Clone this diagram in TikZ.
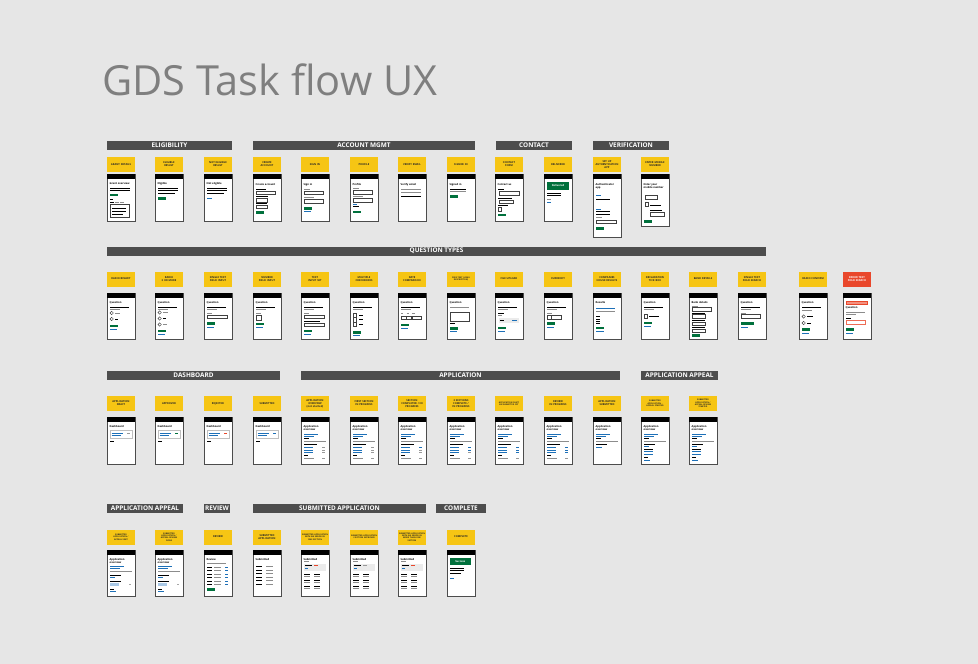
\documentclass[tikz,border=0pt]{standalone}
\usepackage{fontspec}
\setmainfont{Open Sans}
\usetikzlibrary{positioning}

\definecolor{bg}{HTML}{E6E6E6}
\definecolor{hdrgray}{HTML}{4D4D4D}
\definecolor{ttlgray}{HTML}{7F7F7F}
\definecolor{gdsyellow}{HTML}{F6C514}
\definecolor{gdsred}{HTML}{E9472B}
\definecolor{gdsgreen}{HTML}{00703C}
\definecolor{gdsblue}{HTML}{1D70B8}
\definecolor{paleblue}{HTML}{A9C8E6}

% one phone screen: name, x, y, height, content (local coordinates)
\newcommand{\screen}[5]{%
  \begin{scope}[shift={(#2,#3)}]
    \def\scrname{#1}%
    \node[card, minimum height=#4] (#1) at (0,0) {};
    \fill[black] (0,0) rectangle (28,5);
    #5
  \end{scope}}
\newcommand{\uititle}[2]{\node[uitt] (\scrname-t) at (2.5,#1) {#2};}
\newcommand{\uiline}[3][3]{\draw[uiln] (#1,#2) -- ++(#3,0);}
\newcommand{\uigray}[3][3]{\draw[uigr] (#1,#2) -- ++(#3,0);}
\newcommand{\uibtn}[2][3]{\fill[gdsgreen] (#1,#2) rectangle ++(8,2.6);}
\newcommand{\uilink}[2][3]{\draw[uilk] (#1,#2) -- ++(7,0);}
\newcommand{\uibox}[3][3]{\draw[uibx] (#1,#2) rectangle ++(#3,3.5);}
\newcommand{\uiradio}[2][4.7]{\draw[uibx] (#1,#2) circle (1.7);}
\newcommand{\uicheck}[2][3]{\draw[uibx] (#1,#2) rectangle ++(3.5,3.5);}
\newcommand{\qhead}[1][Question]{\uititle{8}{#1}\uiline{14}{19}\uigray{16}{10}}
\newcommand{\dashcard}[1]{\uititle{8.5}{Dashboard}%
  \draw[uibx,black!25] (3,13.5) rectangle (25,21);
  \draw[uilk] (4.5,16) -- ++(11,0); \draw[uilk] (4.5,18.5) -- ++(9,0);
  \draw[line width=0.8pt,#1] (20,16) -- ++(3,0); \uiline{24}{4}}
\newcommand{\appcard}[3]{\uititle{8.5}{Application\\overview}%
  \draw[uilk] (3,17) -- ++(14,0); \draw[uilk] (3,19) -- ++(10,0);
  \uiline{21.5}{5}\uigray{24.5}{22}\uiline{27.5}{13}
  \foreach \yy/\cc in {30.5/#1,33/#2,35.5/#3}{%
    \draw[uilk] (3,\yy) -- ++(9,0); \draw[line width=0.7pt,\cc] (21,\yy) -- ++(3,0);}
  \uiline{38.5}{4}\uigray{41.5}{10}\draw[line width=0.7pt,black!40] (21,41.5) -- ++(3,0);}
\newcommand{\appealcard}{\uititle{8.5}{Application\\overview}%
  \draw[uilk] (3,17) -- ++(14,0); \draw[uilk] (3,19) -- ++(10,0);
  \uiline{21.5}{5}\uigray{24}{22}\uiline{27}{11}\draw[uilk] (3,29) -- ++(5,0);
  \uiline{32}{9}\draw[uilk] (3,34.5) -- ++(9,0); \draw[uilk] (3,37) -- ++(9,0);
  \uiline{40.5}{4}\draw[uilk] (3,43) -- ++(6,0);}
\newcommand{\appealsent}{\uititle{8}{Application\\overview}%
  \draw[uilk] (3,16.5) -- ++(14,0); \draw[uilk] (3,18.5) -- ++(10,0);
  \uigray{21.5}{22}\uiline{25}{11}\draw[uilk] (3,27.5) -- ++(5,0);
  \uiline{31}{11}\fill[paleblue] (3,32.5) rectangle (12,36);
  \draw[line width=0.6pt,black!35] (22,34.2) -- ++(2,0);
  \uiline{39}{4}\draw[uilk] (3,41.5) -- ++(6,0);}
\newcommand{\errsub}[1]{\uititle{8}{Submitted}\uigray{11.5}{5}%
  \fill[black!8] (3,13.5) rectangle (25,20.5);
  \uiline[4]{15.5}{7}\draw[line width=0.8pt,#1] (13,15.5) -- ++(4,0);
  \draw[uilk] (4,18) -- ++(3,0);
  \foreach \yy in {24,30,36}{\uiline{\yy}{6}\uiline[13]{\yy}{6}\uigray{\yy+2.7}{6}\uigray[13]{\yy+2.7}{6}}}

\begin{document}
\begin{tikzpicture}[x=1pt,y=-1pt,
  hdr/.style={fill=hdrgray, text=white, font=\fontsize{6.4}{7}\selectfont\bfseries, minimum height=9, inner sep=0},
  tag/.style={fill=gdsyellow, minimum height=15, inner sep=0.5, text width=27.5, align=center,
    font=\fontsize{2.6}{3}\selectfont\bfseries, text=black!85},
  small/.style={font=\fontsize{2.05}{2.45}\selectfont\bfseries},
  card/.style={draw=black!70, fill=white, line width=0.6pt, minimum width=28, anchor=north west, inner sep=0},
  uitt/.style={anchor=north west, inner sep=0, align=left, font=\fontsize{2.6}{3}\selectfont\bfseries},
  uiln/.style={line width=0.7pt, black},
  uigr/.style={line width=0.5pt, black!45},
  uilk/.style={line width=0.6pt, gdsblue},
  uibx/.style={line width=0.45pt, black!75}]
\fill[bg] (0,0) rectangle (978,664);
\useasboundingbox (0,0) rectangle (978,664);

\node[anchor=base west, inner sep=0, text=ttlgray, font=\fontsize{41.5}{41.5}\selectfont] (title) at (102,95) {GDS Task flow UX};

% headers
\node[hdr, minimum width=125] (hEligibility) at (169.5,145.5) {ELIGIBILITY};
\node[hdr, minimum width=222] (hAccount) at (364,145.5) {ACCOUNT MGMT};
\node[hdr, minimum width=76] (hContact) at (534,145.5) {CONTACT};
\node[hdr, minimum width=76] (hVerification) at (631,145.5) {VERIFICATION};
\node[hdr, minimum width=659] (hQuestions) at (436.5,251) {QUESTION TYPES};
\node[hdr, minimum width=173] (hDashboard) at (193.5,375.5) {DASHBOARD};
\node[hdr, minimum width=319] (hApplication) at (460.5,375.5) {APPLICATION};
\node[hdr, minimum width=77] (hAppeal) at (679.5,375.5) {APPLICATION APPEAL};
\node[hdr, minimum width=76] (hAppealB) at (145,508.5) {APPLICATION APPEAL};
\node[hdr, minimum width=26] (hReview) at (217,508.5) {REVIEW};
\node[hdr, minimum width=173] (hSubmitted) at (339.5,508.5) {SUBMITTED APPLICATION};
\node[hdr, minimum width=50] (hComplete) at (461,508.5) {COMPLETE};

% row 1
\node[tag] (tGrant) at (121,164.5) {GRANT DETAILS};
\node[tag] (tElig) at (169,164.5) {ELIGIBLE\\RESULT};
\node[tag] (tNotElig) at (218,164.5) {NOT ELIGIBLE\\RESULT};
\node[tag] (tCreate) at (267,164.5) {CREATE\\ACCOUNT};
\node[tag] (tSignIn) at (315,164.5) {SIGN IN};
\node[tag] (tProfile) at (364,164.5) {PROFILE};
\node[tag] (tVerify) at (412,164.5) {VERIFY EMAIL};
\node[tag] (tSigned) at (461,164.5) {SIGNED IN};
\node[tag] (tContact) at (509,164.5) {CONTACT\\FORM};
\node[tag] (tDeliv) at (558,164.5) {DELIVERED};
\node[tag] (tAuth) at (607,164.5) {SET UP\\AUTHENTICATION\\APP};
\node[tag] (tMobile) at (655,164.5) {ENTER MOBILE\\NUMBER};

\screen{sGrant}{107}{174}{47}{\uititle{8}{Grant overview}\uiline{14}{20}\uiline{16.5}{20}\uibtn{19.5}
  \uiline{25}{3}\uiline{28.5}{4}\uigray[8]{28.5}{4}\uigray[13]{28.5}{4}
  \draw[uibx] (3.5,30.5) rectangle (22,43); \uiline[5]{34.5}{14}\uiline[5]{37.5}{14}\uiline[5]{40.5}{11}}
\screen{sElig}{155}{174}{47}{\uititle{8}{Eligible}\uiline{14}{20}\uiline{16.5}{20}\uiline{19}{17}\uibtn{23}}
\screen{sNotElig}{204}{174}{47}{\uititle{8}{Not eligible}\uiline{14}{20}\uiline{16.5}{20}\uiline{19}{17}\draw[uilk] (3,24) -- ++(5,0);}
\screen{sCreate}{253}{174}{47}{\uititle{9}{Create account}\uiline{15}{10}\uibox{17}{19}\uiline{22.5}{12}\uibox{24.5}{11}\uiline{29.5}{11}\uibox{31}{11}\uibtn{37}}
\screen{sSignIn}{301}{174}{47}{\uititle{9}{Sign in}\uigray{15}{6}\uibox{17}{19}\uigray{23.5}{10}\uibox{25.5}{19}\uibtn{33}\uilink{37.5}}
\screen{sProfile}{350}{174}{47}{\uititle{9}{Profile}\uigray{14.5}{6}\uibox{16.5}{19}\uigray{22.5}{10}\uibox{24.5}{19}\draw[uilk] (3,30.5) -- ++(4,0); \uiline{32.5}{6}\uibtn{36.5}}
\screen{sVerify}{398}{174}{47}{\uititle{9}{Verify email}\uigray{15.5}{20}\uigray{18}{20}\uiline{22.5}{20}}
\screen{sSigned}{447}{174}{47}{\uititle{9}{Signed in}\uiline{15}{16}\uigray{17.5}{16}\uibtn{21}}
\screen{sContact}{495}{174}{47}{\uititle{9}{Contact us}\uiline{15.5}{6}\uibox[4]{17.5}{20}\uiline{24}{14}\uibox[4]{26}{14}\uiline{31.5}{10}\uicheck{33.5}\uibtn{39.5}}
\screen{sDeliv}{544}{174}{47}{\fill[gdsgreen] (3,8) rectangle (25,15.5);
  \node[uitt, text=white, anchor=center] (sDeliv-b) at (14,11.75) {Delivered};
  \uiline{19}{14}\uiline{21.5}{14}\uigray{25}{4}\draw[uilk] (3,28.5) -- ++(4,0);}
\screen{sAuth}{593}{174}{63}{\uititle{9}{Authenticator\\app}\draw[uilk] (3,21.5) -- ++(5,0); \uiline{25.5}{14}
  \draw[uilk] (3,35) -- ++(5,0); \uiline{37.5}{14}\uiline{40}{14}\uigray{43.5}{6}\uibox{46}{20}\uibtn{53}}
\screen{sMobile}{641}{174}{52}{\uititle{9}{Enter your\\mobile number}\uibox[4]{21.5}{12}\uicheck[4]{28.5}\uiline[9]{31}{11}
  \uiline[9]{36.5}{12}\uibox[9]{38.5}{14}\uibtn{46}}

% row 2
\node[tag] (tRadioBin) at (121,279) {RADIO BINARY};
\node[tag] (tRadioMore) at (169,279) {RADIO\\3 OR MORE};
\node[tag] (tSingle) at (218,279) {SINGLE TEXT\\FIELD INPUT};
\node[tag] (tNumber) at (267,279) {NUMBER\\FIELD INPUT};
\node[tag] (tTextSet) at (315,279) {TEXT\\INPUT SET};
\node[tag] (tChecks) at (364,279) {MULTIPLE\\CHECKBOXES};
\node[tag] (tDate) at (412,279) {DATE\\COMPARISON};
\node[tag, small] (tFree) at (461,279) {FREE TEXT (LONG\\DESCRIPTION)};
\node[tag] (tFile) at (509,279) {FILE UPLOAD};
\node[tag] (tCurrency) at (558,279) {CURRENCY};
\node[tag] (tCompanies) at (607,279) {COMPANIES\\HOUSE RESULTS};
\node[tag] (tDeclare) at (655,279) {DECLARATION\\TICK BOX};
\node[tag] (tBank) at (703,279) {BANK DETAILS};
\node[tag] (tSearch) at (752,279) {SINGLE TEXT\\FIELD SEARCH};
\node[tag] (tConfirm) at (813,279) {RADIO CONFIRM};
\node[tag, fill=gdsred, text=white] (tError) at (857,279) {ERROR TEXT\\FIELD SEARCH};

\screen{qRadioBin}{107}{293}{46}{\qhead\uiradio{20}\uigray[8]{20}{5}\uiradio{26}\uiline[8]{26}{3}\uibtn{31.5}\uilink{36}}
\screen{qRadioMore}{155}{293}{46}{\qhead\uiradio{19.5}\uigray[8]{19.5}{5}\uiradio{25.5}\uiline[8]{25.5}{3}\uiradio{31.5}\uigray[8]{31.5}{4}\uibtn{36.5}\uilink{41}}
\screen{qSingle}{204}{293}{46}{\qhead\uigray{20.5}{5}\uibox{22}{20}\uibtn{29}\uilink{34.5}}
\screen{qNumber}{253}{293}{46}{\qhead\uigray{20.5}{5}\draw[uibx] (3,22) rectangle ++(5,5);\uibtn{29.5}\uilink{34.5}}
\screen{qTextSet}{301}{293}{46}{\qhead\uigray{20.5}{5}\uibox{22}{20}\uiline{28}{16}\uibox{30}{20}\uibtn{36.5}\uilink{41}}
\screen{qChecks}{350}{293}{46}{\qhead
  \foreach \yy in {20,24.5,29}{\draw[uibx] (3,\yy) rectangle ++(3.5,4.5); \uiline[9]{\yy+2.2}{4}}
  \uibtn{38}\uilink{42}}
\screen{qDate}{398}{293}{46}{\qhead\uigray{20.5}{2}\uigray[8.5]{20.5}{2}\uigray[14]{20.5}{3}
  \uibox{23}{5}\uibox[8.5]{23}{5}\uibox[14]{23}{9}\uibtn{30.5}\uilink{35.5}}
\screen{qFree}{447}{293}{46}{\uititle{8}{Question}\uigray{14.5}{19}\draw[uibx] (3.5,19) rectangle (22.5,28); \uiline{30.5}{5}\uibtn{34}\uilink{38}}
\screen{qFile}{495}{293}{46}{\qhead\uiline{20}{6}\uigray{22}{4}\fill[black!8] (3.5,24.5) rectangle (24,29.5);
  \uiline[5]{27}{4}\draw[uilk] (17,27) -- ++(5,0); \uibtn{33.5}\uilink{38}}
\screen{qCurrency}{544}{293}{46}{\qhead\uigray{20.5}{5}\draw[uibx] (3,22) rectangle ++(4,4); \draw[uibx] (7,22) rectangle ++(10,4);\uibtn{29}\uilink{34.5}}
\screen{qCompanies}{593}{293}{46}{\uititle{8}{Results}\draw[uilk] (3,15.5) -- ++(19,0); \uigray{18}{19}
  \foreach \yy in {23.5,26,28.5,30.5}{\uiline{\yy}{4}}\uibtn{33.5}\draw[uilk] (3,38) -- ++(8,0);}
\screen{qDeclare}{641}{293}{46}{\qhead\uicheck{21.5}\uiline[8]{23.2}{10}\uibtn{28.5}\uilink{33.5}}
\screen{qBank}{689}{293}{46}{\uititle{8}{Bank details}\uigray{13.2}{6}\uibox{14.5}{19}
  \foreach \yy in {20,27.5,34.5}{\uiline{\yy}{13}\uibox{\yy+1.7}{13}}\uibtn{41}}
\screen{qSearch}{738}{293}{46}{\qhead\uigray{20}{5}\uibox{21.5}{19}\fill[gdsgreen] (3,29) rectangle ++(13,2.6);\uilink{34}}
\screen{qConfirm}{799}{293}{46}{\uititle{8.5}{Question}\uiline{14.5}{19}\uigray{17}{10}\uiradio{23.5}\uiline[8]{23.5}{6}\uiradio{30}\uiline[8]{30}{4}\uibtn{35}\uilink{40}}
\screen{qError}{843}{293}{46}{\draw[line width=0.4pt, gdsred, fill=gdsred!60] (3,8) rectangle (24,11);
  \uititle{13.5}{Question}\uigray{19.5}{19}\uigray{21.5}{10}\uiline{25.5}{5}
  \draw[line width=0.6pt, gdsred!80] (3,27.5) rectangle ++(19,3.5); \uibtn{35}\uilink{40}}

% row 3
\node[tag] (tDraft) at (121,403.5) {APPLICATION\\DRAFT};
\node[tag] (tApproved) at (169,403.5) {APPROVED};
\node[tag] (tRejected) at (218,403.5) {REJECTED};
\node[tag] (tSubmit) at (267,403.5) {SUBMITTED};
\node[tag] (tOverview) at (315,403.5) {APPLICATION\\OVERVIEW\\(not started)};
\node[tag] (tFirst) at (364,403.5) {FIRST SECTION\\IN PROGRESS};
\node[tag] (tSection) at (412,403.5) {SECTION\\COMPLETED / IN\\PROGRESS};
\node[tag] (tTwo) at (461,403.5) {2 SECTIONS\\COMPLETE /\\IN PROGRESS};
\node[tag, small] (tCant) at (509,403.5) {APPLICATION CAN'T\\BE SUBMITTED YET};
\node[tag] (tRevProg) at (558,403.5) {REVIEW\\IN PROGRESS};
\node[tag] (tAppSub) at (607,403.5) {APPLICATION\\SUBMITTED};
\node[tag, small] (tAppealStart) at (655,403.5) {SUBMITTED\\APPLICATION -\\APPEAL STARTED};
\node[tag, small] (tAppealRev) at (703,403.5) {SUBMITTED\\APPLICATION /\\APPEAL REVIEW\\STARTED};

\screen{dDraft}{107}{417}{47}{\dashcard{black!40}}
\screen{dApproved}{155}{417}{47}{\dashcard{gdsgreen}}
\screen{dRejected}{204}{417}{47}{\dashcard{gdsred}}
\screen{dSubmit}{253}{417}{47}{\dashcard{gdsblue}}
\screen{aOverview}{301}{417}{47}{\appcard{black!40}{black!40}{black!40}}
\screen{aFirst}{350}{417}{47}{\appcard{black!40}{black!40}{black!40}}
\screen{aSection}{398}{417}{47}{\appcard{gdsblue}{black!40}{black!40}}
\screen{aTwo}{447}{417}{47}{\appcard{gdsblue}{gdsblue}{black!40}}
\screen{aCant}{495}{417}{47}{\appcard{gdsblue}{gdsblue}{gdsblue}}
\screen{aRevProg}{544}{417}{47}{\appcard{gdsblue}{gdsblue}{gdsblue}}
\screen{aAppSub}{593}{417}{47}{\uititle{8.5}{Application\\overview}\draw[uilk] (3,17) -- ++(14,0);
  \draw[uilk] (3,19) -- ++(10,0); \uiline{21.5}{5}\uigray{24.5}{22}\uiline{27.5}{11}\draw[uilk] (3,30) -- ++(6,0);}
\screen{aAppealStart}{641}{417}{47}{\appealcard}
\screen{aAppealRev}{689}{417}{47}{\appealcard}

% row 4
\node[tag, small] (tAppealSent) at (121,537) {SUBMITTED\\APPLICATION /\\APPEAL SENT};
\node[tag, small] (tAppealDone) at (169,537) {SUBMITTED\\APPLICATION /\\APPEAL REVIEW\\DONE};
\node[tag] (tReview) at (218,537) {REVIEW};
\node[tag] (tSubApp) at (267,537) {SUBMITTED\\APPLICATION};
\node[tag, small] (tSubErr) at (315,537) {SUBMITTED APPLICATION\\WITH AN ERROR IN\\ONE SECTION};
\node[tag, small] (tSubOk) at (364,537) {SUBMITTED APPLICATION\\/ SECTION APPROVED};
\node[tag, small] (tSubErrs) at (412,537) {SUBMITTED APPLICATION\\WITH AN ERROR IN\\MORE THAN ONE\\SECTION};
\node[tag] (tComplete) at (461,537) {COMPLETE};

\screen{rAppealSent}{107}{550}{46}{\appealsent}
\screen{rAppealDone}{155}{550}{46}{\appealsent}
\screen{rReview}{204}{550}{46}{\uititle{8}{Review}\uigray{13}{19}
  \foreach \yy in {17,20.5,24,27.5,31,34.5}{\uiline{\yy}{5}\uigray[10]{\yy}{7}\draw[uilk] (21,\yy) -- ++(3,0);}
  \uibtn{38}}
\screen{rSubApp}{253}{550}{46}{\uititle{8}{Submitted}
  \foreach \yy in {16.5,20,23.5,27,30.5,34}{\uiline{\yy}{6}\uigray[13]{\yy}{7}}}
\screen{rSubErr}{301}{550}{46}{\errsub{gdsred}}
\screen{rSubOk}{350}{550}{46}{\errsub{black!40}}
\screen{rSubErrs}{398}{550}{46}{\errsub{gdsred}}
\screen{rComplete}{447}{550}{46}{\fill[gdsgreen] (3,7.5) rectangle (23.5,15);
  \node[uitt, text=white, anchor=center] (rComplete-b) at (13.25,11.25) {Success};
  \uiline{18}{14}\uiline{20.5}{14}\uiline{23}{11}\draw[uilk] (3,28) -- ++(4,0);}
\end{tikzpicture}
\end{document}
